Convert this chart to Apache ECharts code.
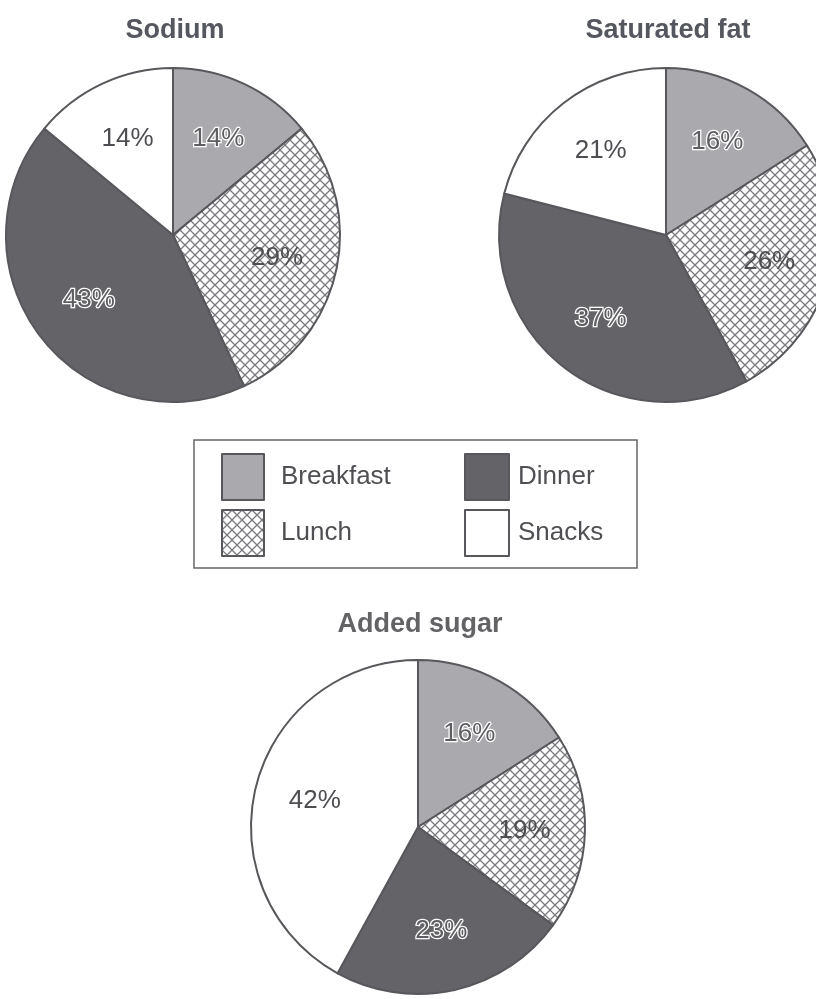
<!DOCTYPE html>
<html>
<head>
<meta charset="utf-8">
<style>
  html, body { margin: 0; padding: 0; background: #ffffff; }
  #chart { width: 816px; height: 999px; }
</style>
<script src="https://cdn.jsdelivr.net/npm/echarts@6/dist/echarts.min.js"></script>
</head>
<body>
<div id="chart"></div>
<script>
// ---- data ----
const categories = ['Breakfast', 'Lunch', 'Dinner', 'Snacks'];
const sodium = [14, 29, 43, 14];
const saturatedFat = [16, 26, 37, 21];
const addedSugar = [16, 19, 23, 42];
const pieTitles = ['Sodium', 'Saturated fat', 'Added sugar'];
const legendLeft = ['Breakfast', 'Lunch'];
const legendRight = ['Dinner', 'Snacks'];

// ---- styling ----
function hatch() {
  const c = document.createElement('canvas');
  c.width = 10; c.height = 10;
  const ctx = c.getContext('2d');
  ctx.fillStyle = '#ffffff';
  ctx.fillRect(0, 0, 10, 10);
  ctx.strokeStyle = '#7a7a7e';
  ctx.lineWidth = 1.3;
  ctx.beginPath();
  ctx.moveTo(0, 0); ctx.lineTo(10, 10);
  ctx.moveTo(10, 0); ctx.lineTo(0, 10);
  ctx.stroke();
  return c;
}
const hatchImg = hatch();
const fills = {
  Breakfast: '#aaaaae',
  Lunch: { image: hatchImg, repeat: 'repeat' },
  Dinner: '#636368',
  Snacks: '#ffffff'
};
const outlined = { Breakfast: true, Dinner: true };
const textFont = 'Liberation Sans';

const pies = [
  { title: pieTitles[0], values: sodium, center: [173, 235], r: 167, titleY: 12 },
  { title: pieTitles[1], values: saturatedFat, center: [666, 235], r: 167, titleY: 12 },
  { title: pieTitles[2], values: addedSugar, center: [418, 827], r: 167, titleY: 606 }
];

const series = [];
const titles = [];
pies.forEach((p, i) => {
  titles.push({
    text: p.title,
    left: p.center[0] - 3,
    top: p.titleY,
    textAlign: 'center',
    textStyle: { fontFamily: textFont, fontWeight: 'bold', fontSize: 27, color: i === 2 ? '#636366' : '#55575e' }
  });
  series.push({
    type: 'pie',
    name: p.title,
    center: p.center,
    radius: [0, p.r],
    startAngle: 90,
    clockwise: true,
    silent: true,
    animation: false,
    label: { show: false },
    labelLine: { show: false },
    emphasis: { disabled: true },
    data: categories.map((c, k) => ({
      name: c,
      value: p.values[k],
      itemStyle: { color: fills[c], borderColor: '#58585c', borderWidth: 2 }
    }))
  });
  // transparent label ring
  series.push({
    type: 'pie',
    name: p.title + ' labels',
    center: p.center,
    radius: [p.r * 0.24, p.r],
    startAngle: 90,
    clockwise: true,
    silent: true,
    animation: false,
    avoidLabelOverlap: false,
    labelLine: { show: false },
    emphasis: { disabled: true },
    itemStyle: { color: 'rgba(0,0,0,0)', borderWidth: 0 },
    data: categories.map((c, k) => ({
      name: c,
      value: p.values[k],
      label: outlined[c]
        ? { color: '#5e5e62', textBorderColor: '#ffffff', textBorderWidth: 2.5 }
        : { color: '#4e4e52' }
    })),
    label: {
      show: true,
      position: 'inside',
      formatter: '{c}%',
      fontFamily: textFont,
      fontSize: 26
    }
  });
});

const legendText = { fontFamily: textFont, fontSize: 26, color: '#505054' };
const chart = echarts.init(document.getElementById('chart'), null, { renderer: 'canvas' });
chart.setOption({
  backgroundColor: '#ffffff',
  animation: false,
  title: titles,
  legend: [
    {
      data: legendLeft, orient: 'vertical', left: 221, top: 453, padding: 0,
      icon: 'rect',
      itemWidth: 42, itemHeight: 46, itemGap: 8, selectedMode: false,
      textStyle: Object.assign({ padding: [0, 0, 0, 12] }, legendText)
    },
    {
      data: legendRight, orient: 'vertical', left: 464, top: 453, padding: 0,
      icon: 'rect',
      itemWidth: 44, itemHeight: 46, itemGap: 8, selectedMode: false,
      textStyle: Object.assign({ padding: [0, 0, 0, 4] }, legendText)
    }
  ],
  graphic: [
    {
      type: 'rect',
      shape: { x: 194, y: 440, width: 443, height: 128 },
      style: { fill: 'none', stroke: '#66666a', lineWidth: 1.5 },
      z: 0
    }
  ],
  series: series
});
</script>
</body>
</html>
